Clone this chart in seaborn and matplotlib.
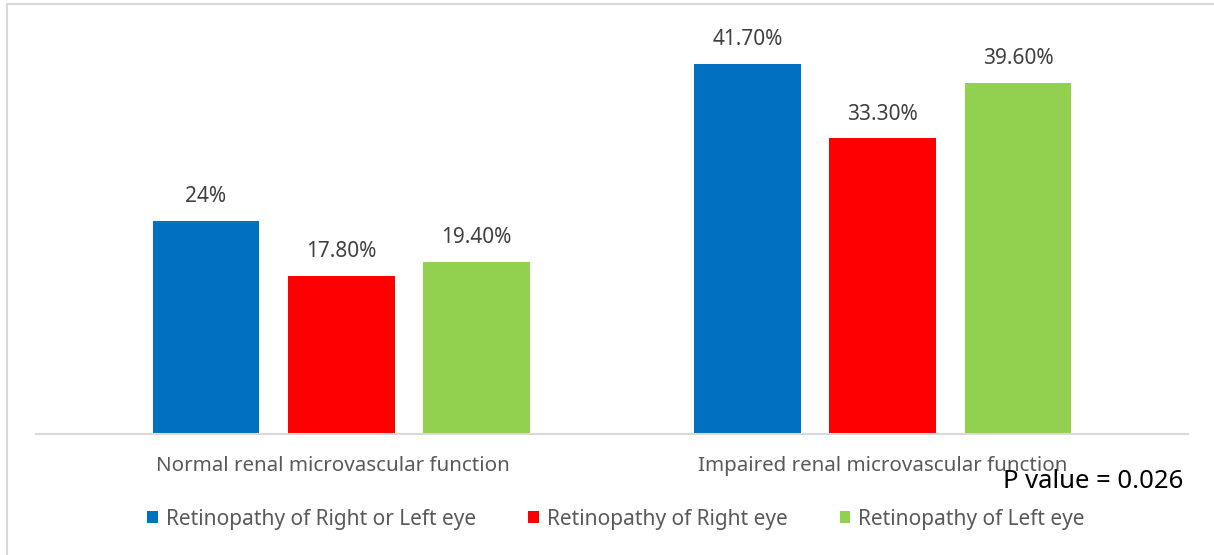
import matplotlib
matplotlib.use("Agg")
import matplotlib.pyplot as plt
import matplotlib.transforms as mtransforms
import seaborn as sns
import pandas as pd
from matplotlib.patches import Patch, Rectangle

categories = ["Normal renal microvascular function", "Impaired renal microvascular function"]
series = ["Retinopathy of Right or Left eye", "Retinopathy of Right eye", "Retinopathy of Left eye"]
values_right_or_left = [24.0, 41.7]
values_right = [17.8, 33.3]
values_left = [19.4, 39.6]
labels_right_or_left = ["24%", "41.70%"]
labels_right = ["17.80%", "33.30%"]
labels_left = ["19.40%", "39.60%"]
colors = ["#0070C0", "#FF0000", "#92D050"]
p_text = "P value = 0.026"

rows = []
for s, vals in zip(series, [values_right_or_left, values_right, values_left]):
    for c, v in zip(categories, vals):
        rows.append({"category": c, "series": s, "value": v})
df = pd.DataFrame(rows)

sns.set_theme(style="white")
plt.rcParams["font.family"] = ["Noto Sans", "DejaVu Sans"]

W, H = 1214, 555
fig = plt.figure(figsize=(W / 100, H / 100), dpi=100)
ax_left, ax_right, ax_bottom, ax_top = 36, 1188, 434, 14
ax = fig.add_axes([ax_left / W, 1 - ax_bottom / H, (ax_right - ax_left) / W, (ax_bottom - ax_top) / H])

sns.barplot(data=df, x="category", y="value", hue="series", palette=colors,
            hue_order=series, order=categories, width=0.75, gap=0.21,
            saturation=1, ax=ax, legend=False, linewidth=0, edgecolor="none")

for cont, labs in zip(ax.containers, [labels_right_or_left, labels_right, labels_left]):
    ax.bar_label(cont, labels=labs, padding=10, fontsize=15, color="#404040")

ax.set_xlim(-0.564, 1.564)
ax.set_ylim(0, (ax_bottom - ax_top) / 8.875)
ax.set_xlabel("")
ax.set_ylabel("")
ax.set_yticks([])
ax.tick_params(axis="x", length=0, pad=16, labelsize=14.8, labelcolor="#595959")
for side in ["top", "right", "left"]:
    ax.spines[side].set_visible(False)
ax.spines["bottom"].set_color("#d9d9d9")
ax.spines["bottom"].set_linewidth(1.5)

# first category label sits slightly left of its group centre in the reference
first = ax.get_xticklabels()[0]
first.set_transform(first.get_transform() + mtransforms.ScaledTranslation(-0.08, 0, fig.dpi_scale_trans))

fig.text(1183 / W, 1 - 482 / H, p_text, ha="right", va="center", fontsize=18.5, color="black")

handles = [Patch(facecolor=c, edgecolor="none") for c in colors]
fig.legend(handles, series, loc="center", bbox_to_anchor=(616 / W, 1 - 519 / H), ncol=3,
           frameon=False, fontsize=15, labelcolor="#595959", handlelength=0.52,
           handleheight=0.52, handletextpad=0.38, columnspacing=2.5)

fig.add_artist(Rectangle((7 / W, -0.1), 1.2, 1 - 4 / H + 0.1, transform=fig.transFigure,
                         fill=False, edgecolor="#d9d9d9", linewidth=1.5))

fig.savefig("out.png", dpi=100)
